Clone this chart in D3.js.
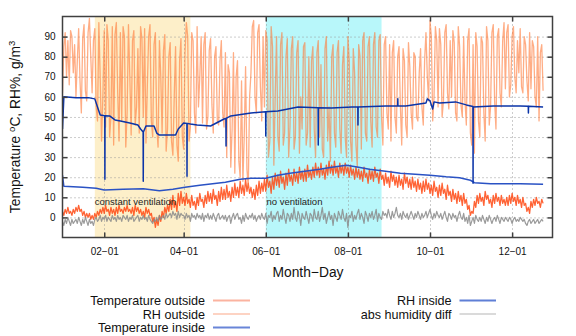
<!DOCTYPE html>
<html>
<head>
<meta charset="utf-8">
<script src="https://cdn.jsdelivr.net/npm/d3@7"></script>
<style>
  body { margin: 0; background: #fff; }
  svg { display: block; font-family: "Liberation Sans", Arial, sans-serif; }
</style>
</head>
<body>
<div id="chart"></div>
<script>
// ---- data (daily values start at 2015-01-01) ----
const startDate = '2015-01-01';

const rhOutside = [
  62, 85, 92, 70, 88, 66, 93, 90, 72, 86,
  60, 78, 94, 68, 52, 89, 96, 63, 58, 92,
  99, 80, 62, 88, 94, 55, 48, 97, 70, 38,
  60, 93, 45, 96, 88, 40, 50, 95, 36, 91,
  97, 62, 38, 92, 48, 95, 90, 35, 52, 96,
  70, 41, 88, 93, 46, 55, 84, 42, 95, 89,
  50, 94, 37, 65, 90, 96, 48, 40, 86, 92,
  45, 35, 88, 70, 42, 83, 91, 33, 44, 80,
  87, 38, 31, 60, 85, 36, 28, 78, 89, 40,
  34, 82, 97, 90, 38, 45, 92, 88, 52, 42,
  95, 55, 70, 90, 47, 86, 92, 44, 50, 83,
  89, 56, 42, 80, 85, 48, 46, 78, 88, 52,
  45, 82, 30, 76, 72, 25, 44, 82, 22, 70,
  78, 28, 20, 68, 18, 40, 75, 24, 15, 60,
  72, 95, 98, 60, 52, 92, 96, 65, 48, 90,
  55, 93, 88, 30, 38, 95, 85, 26, 60, 90,
  40, 33, 86, 92, 36, 42, 80, 89, 30, 45,
  84, 90, 34, 40, 82, 88, 32, 60, 44, 85,
  87, 36, 42, 80, 35, 78, 85, 44, 30, 82,
  88, 40, 76, 34, 30, 84, 90, 38, 55, 28,
  80, 86, 42, 35, 82, 88, 44, 32, 76, 85,
  40, 30, 90, 78, 38, 28, 84, 72, 36, 25,
  86, 80, 34, 88, 92, 42, 38, 85, 90, 48,
  35, 86, 92, 45, 40, 88, 91, 50, 36, 86,
  90, 52, 44, 86, 38, 82, 88, 50, 42, 80,
  85, 55, 36, 84, 78, 46, 40, 87, 75, 52,
  44, 82, 80, 50, 48, 72, 84, 55, 46, 78,
  92, 70, 58, 98, 90, 48, 60, 95, 88, 55,
  94, 86, 50, 58, 92, 96, 62, 54, 88, 60,
  93, 87, 52, 48, 95, 85, 56, 50, 90, 58,
  46, 88, 94, 42, 36, 86, 32, 92, 85, 48,
  40, 90, 87, 52, 38, 95, 88, 46, 55, 92,
  96, 58, 44, 90, 94, 62, 55, 88, 97, 64,
  92, 96, 60, 66, 90, 95, 70, 62, 88, 72,
  94, 65, 62, 90, 86, 68, 58, 92, 64, 88,
  85, 60, 55, 90, 48, 82, 86, 63
];

const tempOutside = [
  3, 1, 4, 2, 5, 2, 3, 1, 4, 2,
  5, 3, 6, 3, 4, 1, 3, 0, 2, 0,
  2, -1, 1, -1, 2, 0, 3, 1, 4, 2,
  5, 2, 6, 3, 4, 1, 5, 2, 4, 1,
  5, 2, 6, 3, 4, 2, 5, 3, 6, 3,
  4, 2, 5, 1, 6, 3, 5, 2, 4, 1,
  3, 0, 5, 2, 4, 1, 2, -2, 0, -5,
  -1, -4, 1, -2, 3, 0, 5, 2, 6, 3,
  9, 4, 11, 5, 8, 3, 12, 6, 13, 7,
  10, 6, 12, 7, 9, 5, 11, 6, 8, 4,
  10, 6, 12, 8, 9, 5, 11, 7, 13, 8,
  12, 7, 14, 9, 11, 6, 13, 8, 15, 9,
  14, 9, 16, 10, 13, 8, 15, 10, 17, 11,
  15, 10, 18, 12, 16, 11, 19, 13, 17, 12,
  15, 10, 14, 9, 16, 11, 18, 12, 17, 13,
  19, 13, 21, 15, 18, 12, 20, 14, 22, 16,
  21, 15, 23, 17, 20, 14, 22, 16, 24, 18,
  21, 16, 24, 18, 22, 17, 25, 19, 23, 18,
  24, 18, 26, 20, 23, 19, 25, 20, 27, 21,
  25, 20, 27, 21, 24, 19, 26, 21, 28, 22,
  26, 21, 28, 22, 25, 20, 27, 22, 26, 21,
  27, 22, 25, 20, 26, 21, 24, 19, 25, 20,
  24, 19, 23, 18, 25, 20, 22, 17, 24, 19,
  23, 18, 25, 20, 22, 17, 24, 19, 21, 16,
  22, 17, 20, 15, 23, 18, 21, 16, 20, 15,
  21, 16, 19, 14, 22, 17, 20, 15, 19, 14,
  20, 15, 18, 13, 19, 14, 17, 12, 18, 13,
  19, 14, 17, 12, 16, 11, 18, 13, 15, 10,
  16, 11, 17, 12, 14, 9, 16, 11, 13, 8,
  14, 9, 12, 7, 13, 8, 11, 6, 12, 7,
  9, 4, 6, 1, 3, 2, 8, 5, 11, 7,
  12, 8, 10, 6, 13, 9, 11, 7, 9, 5,
  11, 7, 12, 8, 10, 6, 11, 7, 9, 6,
  10, 6, 11, 7, 12, 8, 10, 6, 11, 7,
  9, 5, 10, 6, 7, 3, 5, 2, 8, 5,
  9, 6, 10, 7, 8, 5, 9, 7
];

const absHumidityDiff = [
  -2, -4, -1, -3, 0, -2, -4, -1, -3, -2,
  -1, -3, 0, -2, -4, -1, -3, 0, -2, -4,
  -1, -3, -2, -4, -1, 0, -2, -1, 1, -2,
  0, -1, 1, -2, 0, -1, -2, 1, -1, 0,
  -2, 1, -1, 0, -2, 1, 0, -1, 1, -2,
  0, -1, 1, -2, -1, 0, 1, -2, 0, -1,
  1, -1, 0, -2, 1, -1, -2, -3, -1, -2,
  0, -2, 1, -1, 0, 1, -1, 2, 0, 1,
  2, 0, 3, 1, 2, -1, 3, 0, 2, 1,
  1, -1, 2, 0, 1, -2, 2, 0, 1, -1,
  2, 0, 1, -1, 2, -2, 1, 0, 2, -1,
  1, -1, 2, 0, -2, 1, 2, -1, 0, 1,
  -1, 1, -2, 0, 1, -3, 0, 2, -1, 1,
  2, -1, 0, -3, 1, -2, 2, 0, -1, 1,
  0, 2, -1, 1, -2, 0, 1, -1, 2, 0,
  -1, 2, -3, 1, 0, 3, -2, 1, -1, 2,
  3, -2, 1, -1, 4, 0, -3, 2, 1, -2,
  2, -1, 5, 0, -2, 3, 1, -4, 2, 0,
  -1, 3, 0, -3, 2, 1, -2, 4, 0, -1,
  3, -2, 1, 5, -1, 2, -3, 0, 3, -1,
  1, -4, 2, 0, -2, 3, 1, -1, 4, 0,
  -2, 2, -5, 1, 0, 3, -2, 1, -1, 2,
  4, -1, 2, 0, -3, 3, 1, -2, 2, 0,
  3, -1, 1, 4, -2, 2, 0, -1, 3, 1,
  2, 0, 4, 1, -1, 3, 0, 2, 5, 1,
  0, 2, -1, 3, 1, 0, 2, -1, 1, 3,
  1, -1, 2, 0, 3, 1, -1, 2, 0, 1,
  3, 0, 2, 4, 1, -1, 2, 0, 3, 1,
  0, 2, -1, 1, 3, 0, -2, 2, 1, -1,
  2, 0, 1, -2, 1, 3, 0, -1, 2, -2,
  0, -3, 1, -4, -2, 0, -3, 1, -1, -2,
  0, -2, 1, -1, -3, 0, -2, 1, -1, -3,
  -1, 0, -2, 1, -1, -3, 0, -1, -2, 0,
  -1, -2, 0, -1, -3, -1, 0, -2, -1, -2,
  0, -1, -2, -1, -3, -4, -2, -1, -3, -2,
  -1, -3, -2, -1, -3, -2, -1, -2
];

// [day since start, value]
const tempInside = [
  [0, 21], [1, 15.5], [15, 15], [25, 14.5], [31, 13.6], [45, 14], [60, 14.3],
  [72, 13.3], [82, 14], [91, 15], [102, 16], [121, 17.5], [132, 19], [140, 19.5],
  [151, 19.5], [160, 21], [169, 22], [180, 23], [191, 24], [200, 25], [211, 26],
  [220, 25], [228, 24], [240, 23], [251, 22], [262, 21.5], [273, 21], [285, 20.2],
  [295, 19.7], [303, 18.5], [306, 17.3], [318, 16.8], [340, 16.7], [357, 16.5]
];

const rhInside = [
  [0, 44], [1, 60], [10, 59.5], [20, 59.5], [24, 59], [26, 55], [28, 51],
  [31.4, 50.6], [31.5, 19], [31.6, 50.6], [35, 50.5], [39, 48.5], [43, 48],
  [50, 47], [56, 46], [58, 44], [59.9, 42.5], [60, 18], [60.1, 42.5], [62, 45.5],
  [68, 45.5], [70, 42], [72, 41], [80, 41], [84, 41], [86, 44], [90, 47],
  [92.4, 46.8], [92.5, 20.5], [92.6, 46.8], [95, 46.5], [100, 46], [110, 45.5],
  [120, 49], [121.4, 49.3], [121.5, 35.5], [121.6, 49.3], [125, 50.5], [140, 52],
  [150.9, 52.6], [151, 40.5], [151.1, 52.6], [160, 53], [175, 55],
  [189.9, 54.6], [190, 36], [190.1, 54.6], [200, 54.5], [215, 55],
  [219.4, 55], [219.5, 46], [219.6, 55], [240, 55.5], [249, 55.5], [249.1, 59],
  [249.2, 55.5], [255, 55.5], [270, 57], [271, 59], [273, 58], [275, 54], [276, 57.5],
  [280, 57], [292, 57.5], [300, 56], [304.9, 55.2], [305, 17], [305.1, 55],
  [320, 55.5], [340, 55.5], [346, 55.3], [346.1, 52], [346.2, 55.3], [357, 55]
];

const xTickLabels = ['02-01', '04-01', '06-01', '08-01', '10-01', '12-01'];
const yTicks = [0, 10, 20, 30, 40, 50, 60, 70, 80, 90];

const shadeLabels = ['constant ventilation', 'no ventilation'];
const shadeFrom = ['2015-01-25', '2015-06-01'];
const shadeTo = ['2015-04-06', '2015-08-26'];

const seriesNames = ['Temperature outside', 'RH outside', 'Temperature inside', 'RH inside', 'abs humidity diff'];

// ---- setup ----
const width = 576, height = 336;
const plot = { left: 62.5, right: 552.5, top: 16.5, bottom: 237.5 };

const parse = d3.utcParse('%Y-%m-%d');
const t0 = parse(startDate);
const dayDate = d => new Date(t0.getTime() + d * 864e5);

const x = d3.scaleUtc()
  .domain([t0, parse('2015-12-31')])
  .range([plot.left, plot.right]);

const y = d3.scaleLinear()
  .domain([-10, 100])
  .range([plot.bottom, plot.top]);

const svg = d3.select('#chart').append('svg')
  .attr('width', width)
  .attr('height', height);

svg.append('defs').append('clipPath').attr('id', 'clip')
  .append('rect')
  .attr('x', plot.left).attr('y', plot.top)
  .attr('width', plot.right - plot.left).attr('height', plot.bottom - plot.top);

// shaded periods
const shadeColors = ['#fdefc9', '#b8f7fa'];
shadeLabels.forEach((label, i) => {
  svg.append('rect')
    .attr('x', x(parse(shadeFrom[i])))
    .attr('y', plot.top)
    .attr('width', x(parse(shadeTo[i])) - x(parse(shadeFrom[i])))
    .attr('height', plot.bottom - plot.top)
    .attr('fill', shadeColors[i]);
});

// grid
const xTickDates = xTickLabels.map(s => parse('2015-' + s));
const grid = svg.append('g')
  .attr('stroke', '#999')
  .attr('stroke-width', 1)
  .attr('stroke-dasharray', '1,3');

grid.selectAll('.gy').data(yTicks).join('line')
  .attr('x1', plot.left).attr('x2', plot.right)
  .attr('y1', d => y(d) + 0.5).attr('y2', d => y(d) + 0.5);

grid.selectAll('.gx').data(xTickDates).join('line')
  .attr('x1', d => Math.round(x(d)) + 0.5).attr('x2', d => Math.round(x(d)) + 0.5)
  .attr('y1', plot.top).attr('y2', plot.bottom);

// series
const line = d3.line().x(d => x(d[0])).y(d => y(d[1]));
const daily = arr => arr.map((v, i) => [dayDate(i), v]);
const keyed = arr => arr.map(d => [dayDate(d[0]), d[1]]);

const series = [
  { data: daily(tempOutside), stroke: '#ff4812', opacity: 0.85, width: 1.3, legend: '#fbb3a0' },
  { data: daily(rhOutside), stroke: '#ff7a3a', opacity: 0.62, width: 1.3, legend: '#fdd3c3' },
  { data: keyed(tempInside), stroke: '#2a52c4', opacity: 1, width: 1.5, legend: '#6985d8' },
  { data: keyed(rhInside), stroke: '#0b34a8', opacity: 1, width: 1.5, legend: '#5f7fd6' },
  { data: daily(absHumidityDiff), stroke: '#8a8a8a', opacity: 0.85, width: 1.2, legend: '#dadada' }
];

const lines = svg.append('g').attr('clip-path', 'url(#clip)');
series.forEach(s => {
  lines.append('path')
    .datum(s.data)
    .attr('d', line)
    .attr('fill', 'none')
    .attr('stroke', s.stroke)
    .attr('stroke-opacity', s.opacity)
    .attr('stroke-width', s.width)
    .attr('stroke-linejoin', 'round');
});

// shade labels
const labelDays = [24, 151.5];
shadeLabels.forEach((label, i) => {
  svg.append('text')
    .attr('x', x(dayDate(labelDays[i])))
    .attr('y', 205)
    .attr('font-size', 9.5)
    .attr('fill', '#222')
    .text(label);
});

// axes
const fmt = s => s.replace('-', '\u2212');
const axisColor = '#404040';
const styleAxis = g => {
  g.select('.domain').remove();
  g.selectAll('.tick line').attr('stroke', axisColor).attr('stroke-width', 1.5);
  g.selectAll('.tick text').attr('fill', '#111');
};

svg.append('g')
  .attr('transform', `translate(0,${plot.bottom})`)
  .attr('font-size', 13.4).attr('font-family', null)
  .call(d3.axisBottom(x).tickValues(xTickDates).tickFormat((d, i) => fmt(xTickLabels[i]))
    .tickSizeInner(-5).tickSizeOuter(0).tickPadding(10))
  .call(styleAxis);

svg.append('g')
  .attr('transform', `translate(0,${plot.top})`)
  .call(d3.axisTop(x).tickValues(xTickDates).tickFormat('')
    .tickSizeInner(-5).tickSizeOuter(0))
  .call(styleAxis);

svg.append('g')
  .attr('transform', `translate(${plot.left},0)`)
  .attr('font-size', 13.4).attr('font-family', null)
  .call(d3.axisLeft(y).tickValues(yTicks).tickSizeInner(-5).tickSizeOuter(0).tickPadding(7))
  .call(styleAxis);

svg.append('g')
  .attr('transform', `translate(${plot.right},0)`)
  .call(d3.axisRight(y).tickValues(yTicks).tickFormat('').tickSizeInner(-5).tickSizeOuter(0))
  .call(styleAxis);

svg.append('rect')
  .attr('x', plot.left).attr('y', plot.top)
  .attr('width', plot.right - plot.left).attr('height', plot.bottom - plot.top)
  .attr('fill', 'none')
  .attr('stroke', axisColor)
  .attr('stroke-width', 1.5);

// axis titles
svg.append('text')
  .attr('x', (plot.left + plot.right) / 2 + 0.5)
  .attr('y', 277)
  .attr('text-anchor', 'middle')
  .attr('font-size', 13.8)
  .attr('fill', '#111')
  .text('Month\u2212Day');

const yTitle = svg.append('text')
  .attr('transform', `translate(20,${(plot.top + plot.bottom) / 2})rotate(-90)`)
  .attr('text-anchor', 'middle')
  .attr('font-size', 13.8)
  .attr('fill', '#111');
yTitle.append('tspan').text('Temperature ');
yTitle.append('tspan').attr('dy', -5).attr('font-size', 9.5).text('o');
yTitle.append('tspan').attr('dy', 5).text('C, RH%, g/m');
yTitle.append('tspan').attr('dy', -5).attr('font-size', 9.5).text('3');

// legend
const legendCols = [
  { right: 205, x1: 213, x2: 250 },
  { right: 451.5, x1: 459.5, x2: 496 }
];
const legendRows = [305, 318.5, 332];
const legend = svg.append('g').attr('font-size', 12.6).attr('fill', '#111');

seriesNames.forEach((name, i) => {
  const col = legendCols[i < 3 ? 0 : 1];
  const yy = legendRows[i < 3 ? i : i - 3];
  legend.append('text')
    .attr('x', col.right).attr('y', yy)
    .attr('text-anchor', 'end')
    .text(name);
  legend.append('line')
    .attr('x1', col.x1).attr('x2', col.x2)
    .attr('y1', yy - 4.5).attr('y2', yy - 4.5)
    .attr('stroke', series[i].legend)
    .attr('stroke-width', 2);
});
</script>
</body>
</html>
